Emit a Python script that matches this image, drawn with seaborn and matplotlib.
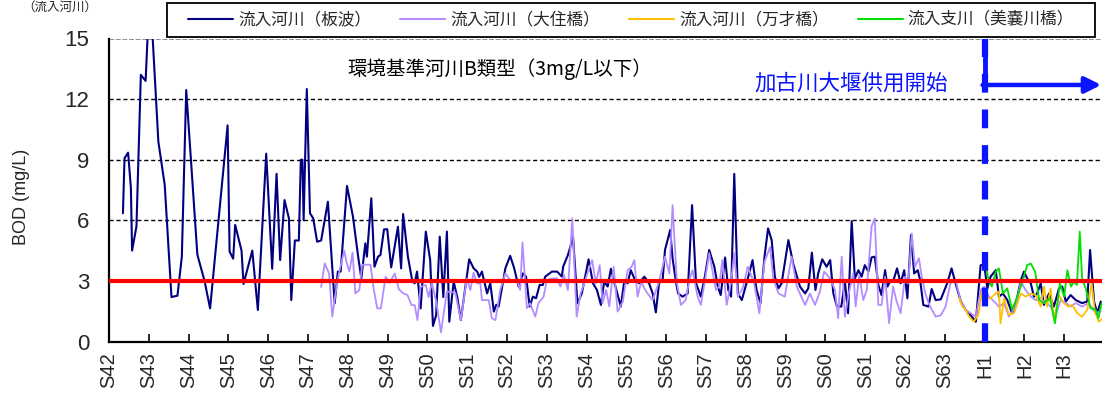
import matplotlib
matplotlib.use("Agg")
import matplotlib.pyplot as plt
from matplotlib.patches import Rectangle
import seaborn as sns
import pandas as pd

# ---- data: BOD (mg/L) at the inflow stations, time as decimal year ----
itanami_year = [1967 + d for d in [
    0.35, 0.39, 0.48, 0.55, 0.58, 0.69, 0.80, 0.92, 0.99, 1.07, 1.24, 1.40, 1.57, 1.72, 1.83, 1.94,
    2.22, 2.40, 2.54, 2.98, 3.03, 3.12, 3.17, 3.33, 3.38, 3.60, 3.74, 3.95, 4.10, 4.21, 4.30, 4.41,
    4.52, 4.58, 4.67, 4.77, 4.82, 4.86, 4.89, 4.97, 5.05, 5.13, 5.23, 5.33, 5.50, 5.67, 5.75, 5.82,
    5.98, 6.13, 6.26, 6.34, 6.44, 6.48, 6.59, 6.67, 6.76, 6.82, 6.91, 6.99, 7.09, 7.26, 7.34, 7.39,
    7.51, 7.62, 7.68, 7.74, 7.83, 7.96, 8.07, 8.14, 8.22, 8.31, 8.40, 8.49, 8.55, 8.66, 8.75, 8.84,
    9.05, 9.16, 9.25, 9.30, 9.37, 9.50, 9.58, 9.67, 9.73, 9.79, 9.96, 10.08, 10.18, 10.29, 10.40, 10.48,
    10.57, 10.65, 10.73, 10.82, 10.90, 10.96, 11.13, 11.26, 11.38, 11.41, 11.53, 11.66, 11.77, 11.88, 12.05, 12.16,
    12.26, 12.36, 12.44, 12.53, 12.61, 12.70, 12.86, 12.95, 13.03, 13.11, 13.20, 13.32, 13.45, 13.57, 13.66, 13.74,
    13.82, 13.91, 13.97, 14.10, 14.16, 14.25, 14.30, 14.41, 14.54, 14.65, 14.75, 14.87, 14.97, 15.08, 15.21, 15.30,
    15.37, 15.48, 15.56, 15.63, 15.71, 15.80, 15.90, 16.05, 16.17, 16.27, 16.37, 16.47, 16.56, 16.65, 16.73, 16.82,
    16.90, 17.07, 17.19, 17.30, 17.36, 17.49, 17.57, 17.66, 17.75, 17.82, 17.92, 18.03, 18.12, 18.20, 18.29, 18.40,
    18.49, 18.57, 18.66, 18.74, 18.83, 18.91, 18.99, 19.08, 19.16, 19.24, 19.33, 19.41, 19.50, 19.56, 19.63, 19.70,
    19.80, 19.89, 19.98, 20.06, 20.15, 20.23, 20.32, 20.38, 20.46, 20.59, 20.67, 20.77, 20.90, 21.06, 21.17, 21.27,
    21.40, 21.52, 21.65, 21.78, 21.90, 21.99, 22.07, 22.15, 22.28, 22.36, 22.46, 22.57, 22.69, 22.78, 22.91, 22.99,
    23.07, 23.16, 23.24, 23.32, 23.41, 23.49, 23.62, 23.74, 23.87, 23.95, 24.04, 24.16, 24.29, 24.45, 24.58, 24.65,
    24.75, 24.83, 24.92]]
itanami_bod = [
    6.35, 9.07, 9.35, 7.6, 4.5, 5.7, 13.2, 12.9, 16.0, 16.0, 9.9, 7.75, 2.2, 2.27, 4.2, 12.45,
    4.3, 3.0, 1.64, 10.7, 4.45, 4.1, 5.77, 4.5, 2.85, 4.5, 1.56, 9.3, 3.6, 8.3, 4.03, 7.0,
    6.1, 2.05, 5.0, 5.0, 9.0, 9.0, 6.0, 12.5, 6.35, 6.1, 4.94, 5.0, 6.92, 1.89, 3.46, 3.46,
    7.7, 6.18, 4.2, 3.13, 4.86, 4.2, 7.09, 3.7, 4.2, 4.28, 5.55, 5.56, 3.67, 5.68, 3.62, 6.31,
    4.2, 3.0, 2.88, 3.46, 1.64, 5.44, 4.03, 0.77, 1.31, 5.19, 2.2, 5.44, 0.98, 2.96, 2.2, 1.06,
    4.07, 3.63, 3.46, 3.2, 3.46, 2.38, 2.88, 1.48, 1.82, 1.73, 3.63, 4.24, 3.63, 2.72, 3.37, 3.2,
    1.73, 2.22, 2.14, 2.8, 2.8, 3.21, 3.46, 3.46, 3.21, 3.7, 4.28, 5.15, 1.89, 2.38, 4.07, 2.88,
    2.55, 1.81, 2.96, 2.72, 3.6, 2.9, 1.73, 3.04, 2.88, 3.53, 3.12, 2.88, 3.21, 2.88, 2.38, 1.44,
    2.88, 3.04, 4.53, 5.52, 4.12, 2.88, 2.38, 2.22, 2.38, 6.75, 2.88, 2.22, 3.2, 4.53, 3.7, 2.7,
    2.3, 4.16, 2.55, 2.22, 8.3, 2.38, 2.05, 3.12, 4.03, 2.55, 1.9, 4.2, 5.6, 5.02, 3.21, 2.63,
    2.88, 5.02, 3.86, 3.12, 2.72, 2.38, 2.63, 4.4, 2.55, 3.37, 4.07, 3.7, 4.03, 2.38, 1.73, 1.73,
    2.96, 1.4, 5.96, 3.12, 3.53, 3.21, 3.78, 3.46, 4.16, 4.2, 2.8, 2.3, 3.53, 2.72, 3.0, 2.96,
    3.62, 2.88, 3.53, 2.14, 5.27, 3.37, 3.53, 3.04, 1.81, 1.73, 2.6, 2.05, 2.09, 2.88, 3.62, 2.88,
    2.0, 1.57, 1.3, 0.98, 3.78, 3.78, 2.63, 3.21, 3.53, 2.22, 2.38, 2.05, 1.4, 1.81, 3.04, 3.46,
    3.12, 2.88, 2.22, 2.38, 2.88, 1.81, 2.38, 1.73, 2.63, 2.72, 1.98, 2.3, 2.05, 1.9, 1.98, 4.53,
    1.98, 1.4, 1.98]

ozumi_year = [1967 + d for d in [
    5.33, 5.42, 5.53, 5.61, 5.70, 5.79, 5.91, 5.97, 6.04, 6.12, 6.19, 6.29, 6.36, 6.57, 6.65, 6.74,
    6.83, 6.95, 7.05, 7.18, 7.28, 7.38, 7.50, 7.60, 7.68, 7.75, 7.83, 7.96, 8.03, 8.11, 8.22, 8.34,
    8.49, 8.70, 8.84, 8.99, 9.08, 9.16, 9.25, 9.33, 9.37, 9.54, 9.62, 9.71, 9.83, 9.96, 10.08, 10.25,
    10.33, 10.39, 10.50, 10.58, 10.71, 10.79, 10.92, 11.00, 11.13, 11.26, 11.34, 11.43, 11.53, 11.64, 11.75, 11.85,
    11.94, 12.02, 12.14, 12.23, 12.33, 12.40, 12.49, 12.57, 12.68, 12.78, 12.91, 13.03, 13.13, 13.20, 13.28, 13.37,
    13.45, 13.53, 13.66, 13.82, 13.91, 13.97, 14.08, 14.16, 14.27, 14.37, 14.49, 14.58, 14.66, 14.79, 14.87, 14.99,
    15.08, 15.25, 15.33, 15.41, 15.52, 15.63, 15.71, 15.80, 15.92, 16.05, 16.21, 16.34, 16.47, 16.61, 16.69, 16.82,
    16.98, 17.15, 17.28, 17.49, 17.61, 17.74, 17.86, 17.97, 18.12, 18.24, 18.32, 18.41, 18.49, 18.60, 18.70, 18.76,
    18.85, 18.95, 19.04, 19.16, 19.24, 19.33, 19.41, 19.50, 19.60, 19.70, 19.79, 19.89, 20.00, 20.08, 20.17, 20.25,
    20.35, 20.42, 20.52, 20.63, 20.77, 20.90, 21.02, 21.14, 21.27, 21.40, 21.52, 21.65, 21.78, 21.90, 21.99, 22.11,
    22.24, 22.36, 22.49, 22.61, 22.78, 22.91, 23.03, 23.16, 23.28, 23.41, 23.53, 23.66, 23.78, 23.91, 24.04, 24.16,
    24.29, 24.45, 24.62, 24.79, 24.92]]
ozumi_bod = [
    2.7, 3.87, 3.37, 1.23, 2.5, 3.5, 4.5, 3.9, 3.46, 4.4, 2.38, 2.55, 3.8, 3.8, 2.6, 1.64,
    1.64, 3.2, 2.9, 3.37, 2.6, 2.4, 2.3, 1.8, 1.8, 1.06, 2.7, 2.8, 2.2, 2.9, 2.0, 0.45,
    2.47, 2.42, 1.06, 3.12, 2.55, 3.41, 2.88, 2.88, 2.05, 2.05, 1.15, 1.06, 2.55, 3.37, 3.04, 3.04,
    2.55, 4.9, 1.65, 1.9, 1.23, 1.9, 2.22, 3.04, 3.12, 3.12, 2.72, 3.29, 2.55, 6.1, 1.23, 2.38,
    2.88, 3.37, 4.03, 2.88, 3.78, 1.9, 2.55, 1.73, 3.7, 1.48, 1.98, 3.53, 3.7, 4.03, 2.22, 2.96,
    2.63, 2.38, 2.05, 2.96, 3.7, 4.2, 3.37, 6.75, 2.88, 1.81, 2.05, 3.04, 3.53, 2.22, 1.81, 3.21,
    4.37, 2.55, 2.72, 4.03, 1.81, 2.96, 4.37, 2.22, 2.63, 3.7, 2.88, 1.4, 3.95, 4.68, 3.12, 2.38,
    2.22, 4.2, 2.72, 1.81, 2.38, 1.81, 2.47, 3.46, 3.12, 2.55, 1.15, 4.2, 1.23, 2.5, 3.37, 1.73,
    3.3, 2.05, 2.55, 5.69, 6.1, 1.81, 1.81, 3.21, 0.9, 2.72, 1.98, 1.4, 3.21, 2.88, 5.35, 3.7,
    4.12, 3.21, 2.3, 1.73, 1.23, 1.3, 1.73, 2.88, 3.04, 2.0, 1.57, 1.4, 1.23, 2.55, 2.72, 2.22,
    1.98, 1.73, 1.9, 1.23, 1.73, 2.96, 2.55, 2.22, 2.05, 2.14, 1.9, 1.73, 1.23, 2.05, 1.9, 1.73,
    1.9, 1.73, 1.9, 1.4, 1.5]

banzai_year = [1967 + d for d in [
    21.36, 21.44, 21.52, 21.61, 21.73, 21.84, 21.94, 22.04, 22.15, 22.28, 22.36, 22.40, 22.49, 22.61, 22.74, 22.91,
    23.03, 23.16, 23.28, 23.41, 23.49, 23.57, 23.66, 23.74, 23.87, 23.99, 24.10, 24.20, 24.33, 24.45, 24.58, 24.69,
    24.77, 24.87, 24.94]]
banzai_bod = [
    2.14, 1.73, 1.57, 1.23, 0.98, 1.32, 2.55, 2.14, 2.14, 2.38, 2.47, 0.9, 2.14, 1.32, 1.4, 2.38,
    2.22, 2.38, 2.3, 1.73, 2.72, 1.73, 2.63, 1.06, 2.3, 1.9, 1.73, 1.81, 1.4, 1.23, 1.57, 2.88,
    1.48, 0.98, 1.1]

minagi_year = [1967 + d for d in [
    22.02, 22.08, 22.18, 22.28, 22.36, 22.46, 22.57, 22.69, 22.82, 22.94, 23.07, 23.16, 23.27, 23.37, 23.49, 23.64,
    23.77, 23.89, 24.00, 24.08, 24.17, 24.24, 24.32, 24.39, 24.45, 24.54, 24.66, 24.79, 24.86, 24.94]]
minagi_bod = [
    4.1, 3.21, 2.72, 3.46, 3.62, 2.38, 2.63, 1.57, 2.22, 2.88, 3.78, 3.86, 3.46, 2.05, 1.9, 2.14,
    0.9, 2.88, 2.22, 3.53, 2.72, 2.96, 2.8, 5.44, 3.12, 2.63, 1.65, 1.57, 1.15, 1.9]

series_names = ["流入河川（板波）", "流入河川（大住橋）", "流入河川（万才橋）", "流入支川（美嚢川橋）"]
tick_years = list(range(1967, 1992))
tick_labels = [f"S{y - 1925}" for y in range(1967, 1989)] + [f"H{y - 1988}" for y in range(1989, 1992)]
standard_bod = 3.0
weir_start_year = 1989

series = [
    (itanami_year, itanami_bod, "#000080", 1.5),
    (ozumi_year, ozumi_bod, "#B48CFF", 1.3),
    (banzai_year, banzai_bod, "#FFC000", 1.3),
    (minagi_year, minagi_bod, "#00E000", 1.3),
]

sns.set_theme(style="white")
plt.rcParams['font.family'] = ['Noto Sans CJK JP', 'DejaVu Sans']
num_font = ['Liberation Sans', 'DejaVu Sans']

W, H = 1102, 394
fig = plt.figure(figsize=(W / 100, H / 100), dpi=100)
ax = fig.add_axes([109 / W, (H - 341.5) / H, (W - 109) / W, (341.5 - 38.5) / H])

handles = []
for (yrs, vals, col, lw), name in zip(series, series_names):
    df = pd.DataFrame({"year": yrs, "bod": vals})
    sns.lineplot(data=df, x="year", y="bod", ax=ax, color=col, lw=lw,
                 sort=False, estimator=None, label=name, legend=False)
    handles.append(ax.lines[-1])

# environmental standard line and weir start marker
ax.axhline(standard_bod, color="#FF0000", lw=3, zorder=5)
vline = ax.axvline(weir_start_year, color="#0A14FF", lw=4.5, zorder=6)
vline.set_dashes((3.0, 2.7))

ax.set_xlim(1967, 1967 + 993 / 39.8)
ax.set_ylim(0, 15)
ax.set_yticks([0, 3, 6, 9, 12, 15])
ax.set_xticks(tick_years)
ax.set_xticklabels(tick_labels, rotation=90, family=num_font, fontsize=14.5)
for lab in ax.get_yticklabels():
    lab.set_family(num_font)
    lab.set_fontsize(16)
ax.tick_params(axis="x", direction="in", length=6, width=1.2, pad=8, color="black", bottom=True)
ax.tick_params(axis="y", length=0, pad=14)
ax.set_xlabel("")
ax.set_ylabel("")

for y in [6, 9, 12]:
    ax.axhline(y, color="black", lw=1.0, ls=(0, (3, 2)), zorder=1)
ax.axhline(15, color="#808080", lw=1.2, ls=(0, (3, 1)), zorder=1)

for side in ["top", "right"]:
    ax.spines[side].set_visible(False)
for side in ["left", "bottom"]:
    ax.spines[side].set_color("black")
    ax.spines[side].set_linewidth(1.6)

# arrow: elbow from top of the marker line pointing right
ax.plot([weir_start_year, weir_start_year], [12.7, 15], color="#0A14FF", lw=3.5, zorder=6,
        solid_capstyle="butt")
ax.annotate("", xy=(1991.93, 12.7), xytext=(weir_start_year - 0.05, 12.7),
            arrowprops=dict(arrowstyle="-|>,head_length=0.8,head_width=0.4",
                            color="#0A14FF", lw=3.2, shrinkA=0, shrinkB=0), zorder=6)

ax.text(1976.82, 13.5, "環境基準河川B類型（3mg/L以下）", ha="center", va="center",
        fontsize=14, color="black")
ax.text(1985.64, 12.75, "加古川大堰供用開始", ha="center", va="center",
        fontsize=15.5, color="#0A14FF")

fig.text(22 / W, 0.5, "BOD (mg/L)", rotation=90, ha="center", va="center",
         fontsize=13, family=num_font)
fig.text(22 / W, (H - 1) / H, "（流入河川）", ha="left", va="top", fontsize=9)

# legend frame and entries
fig.add_artist(Rectangle((167 / W, (H - 37) / H), (1095 - 167) / W, 34 / H,
                         transform=fig.transFigure, facecolor="white",
                         edgecolor="black", lw=1.3, zorder=4))
leg = fig.legend(handles, series_names, loc="center",
                 bbox_to_anchor=(631 / W, (H - 20) / H),
                 ncol=4, frameon=False, borderaxespad=0, borderpad=0,
                 handlelength=2.7, handletextpad=0.3, columnspacing=1.75, fontsize=12)
leg.set_zorder(5)
for h in leg.get_lines():
    h.set_linewidth(1.5)

fig.savefig("out.png", dpi=100)
